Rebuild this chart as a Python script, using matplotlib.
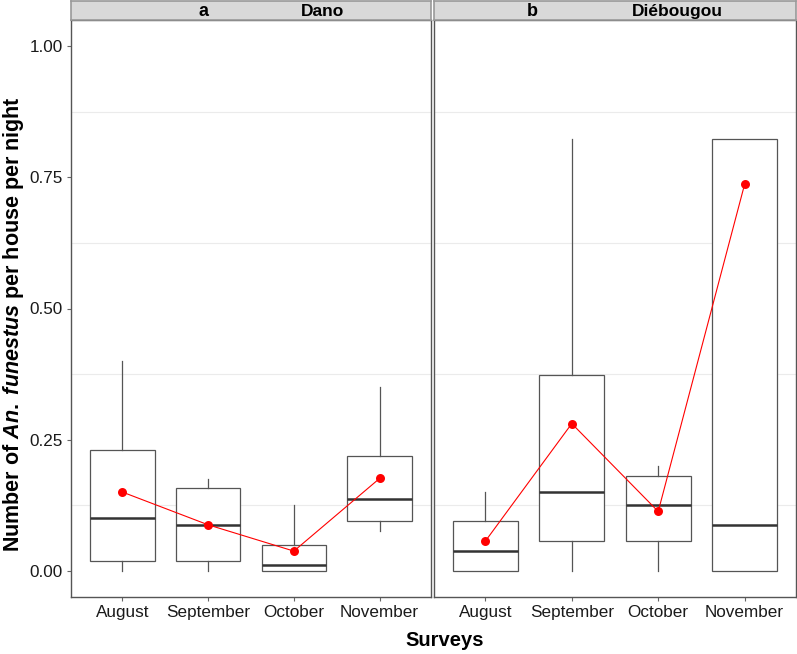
import matplotlib
matplotlib.use("Agg")
import matplotlib.pyplot as plt
import numpy as np

plt.rcParams["font.family"] = ["Liberation Sans", "DejaVu Sans"]
plt.rcParams["mathtext.fontset"] = "custom"
plt.rcParams["mathtext.it"] = "Liberation Sans:italic:bold"
plt.rcParams["mathtext.rm"] = "Liberation Sans:bold"

months = ["August", "September", "October", "November"]
sites = ["Dano", "Diébougou"]
panel_tags = ["a", "b"]

# per site: lower whisker, Q1, median, Q3, upper whisker, mean
whislo = [[0.0, 0.0, 0.0, 0.075], [0.0, 0.0, 0.0, 0.0]]
q1 = [[0.019, 0.019, 0.0, 0.094], [0.0, 0.0565, 0.0565, 0.0]]
med = [[0.100, 0.0876, 0.0114, 0.137], [0.037, 0.150, 0.1257, 0.0876]]
q3 = [[0.230, 0.1575, 0.050, 0.218], [0.094, 0.374, 0.1816, 0.824]]
whishi = [[0.40, 0.175, 0.125, 0.35], [0.15, 0.824, 0.199, 0.824]]
means = [[0.150, 0.0876, 0.0375, 0.176], [0.0565, 0.2806, 0.113, 0.737]]

fig = plt.figure(figsize=(7.97, 6.54), dpi=100)
W, H = 797, 654
panels = [(71, 360), (433.5, 363)]
top_px, bot_px = 20, 597
tag_x = [0.367, 0.271]
site_x = [0.70, 0.671]

for i, (x0, w) in enumerate(panels):
    ax = fig.add_axes([x0 / W, (H - bot_px) / H, w / W, (bot_px - top_px) / H])
    pos = np.arange(1, len(months) + 1)
    stats = []
    for j in range(len(months)):
        stats.append(dict(whislo=whislo[i][j], q1=q1[i][j], med=med[i][j],
                          q3=q3[i][j], whishi=whishi[i][j], fliers=[]))
    ax.bxp(stats, positions=pos, widths=0.75, showcaps=False, showfliers=False,
           patch_artist=True,
           boxprops=dict(facecolor="white", edgecolor="#555555", linewidth=0.9),
           whiskerprops=dict(color="#555555", linewidth=0.9),
           medianprops=dict(color="#333333", linewidth=1.8))
    ax.plot(pos, means[i], color="red", linewidth=0.8, zorder=4)
    ax.scatter(pos, means[i], color="red", s=42, zorder=5, linewidths=0)

    ax.set_xlim(0.4, 4.6)
    ax.set_ylim(-0.05, 1.05)
    ax.set_yticks([0, 0.25, 0.5, 0.75, 1.0])
    ax.set_yticks([0.125, 0.375, 0.625, 0.875], minor=True)
    ax.grid(True, which="minor", axis="y", color="#EBEBEB", linewidth=0.8)
    ax.set_axisbelow(True)
    ax.tick_params(axis="y", which="minor", length=0)
    ax.set_xticks(pos)
    ax.set_xticklabels(months)
    ax.tick_params(axis="both", which="major", length=3, color="#666666",
                   labelsize=12.3, labelcolor="#1a1a1a", pad=3)
    if i == 0:
        ax.set_yticklabels(["0.00", "0.25", "0.50", "0.75", "1.00"])
    else:
        ax.tick_params(axis="y", labelleft=False, length=0)
    for sp in ax.spines.values():
        sp.set_color("#555555")
        sp.set_linewidth(1.0)

    # strip header
    sax = fig.add_axes([x0 / W, (H - top_px) / H, w / W, 19.5 / H])
    sax.set_facecolor("#D9D9D9")
    sax.set_xticks([])
    sax.set_yticks([])
    for sp in sax.spines.values():
        sp.set_color("#999999")
        sp.set_linewidth(1.2)
    sax.text(tag_x[i], 0.45, panel_tags[i], ha="center", va="center",
             fontsize=13, fontweight="bold", transform=sax.transAxes)
    sax.text(site_x[i], 0.45, sites[i], ha="center", va="center",
             fontsize=12.5, fontweight="bold", transform=sax.transAxes)

fig.text(445 / W, 1 - 640 / H, "Surveys", ha="center", va="center",
         fontsize=14.5, fontweight="bold")
fig.text(14 / W, 1 - 324 / H,
         r"Number of $\mathit{An.}$ $\mathit{funestus}$ per house per night",
         ha="center", va="center", rotation=90, fontsize=15.5, fontweight="bold")

fig.savefig("out.png", dpi=100)
